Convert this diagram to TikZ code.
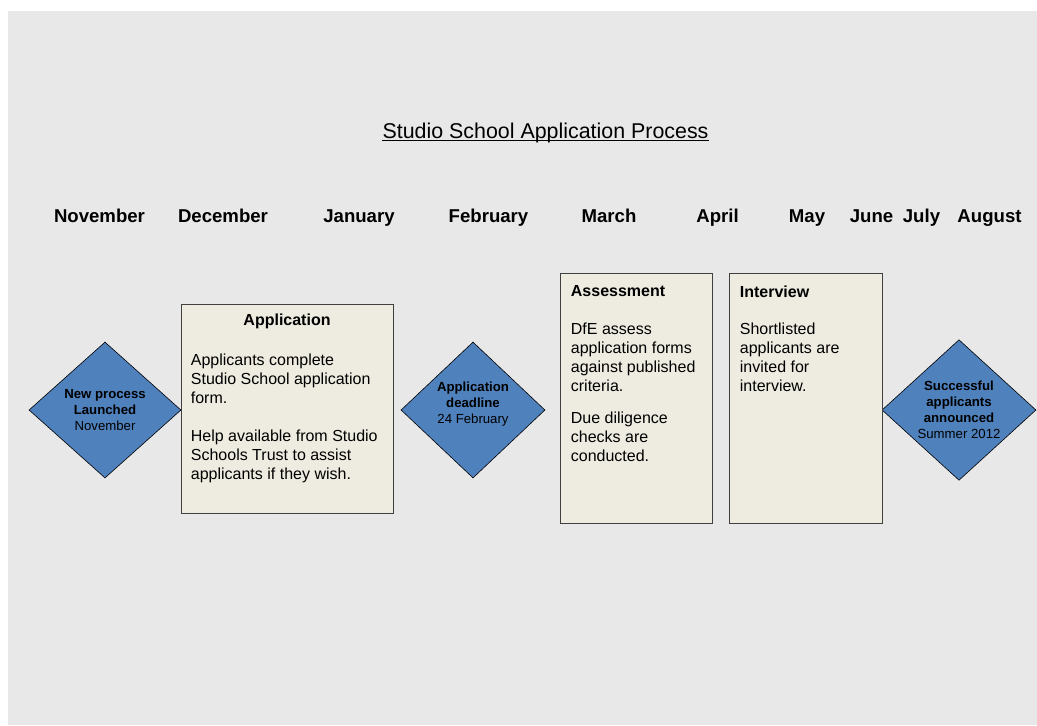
\documentclass[tikz,border=0pt]{standalone}
\usepackage{fontspec}
\setmainfont{Liberation Sans}
\usetikzlibrary{positioning,shapes.geometric}
\definecolor{pagegray}{HTML}{E8E8E8}
\definecolor{boxcream}{HTML}{EEECE1}
\definecolor{stepblue}{HTML}{4F81BD}

\begin{document}
\begin{tikzpicture}[x=0.5pt, y=-0.5pt,
  month/.style={font=\fontsize{9.3}{11}\selectfont\bfseries, inner sep=0pt, anchor=base},
  milestone/.style={diamond, draw=black, line width=0.3pt, fill=stepblue,
                    minimum height=68pt, inner sep=0pt, align=center,
                    font=\fontsize{6.6}{8}\selectfont},
  stage/.style={draw=black!75, line width=0.5pt, fill=boxcream, inner sep=0pt},
  stagehead/.style={font=\fontsize{8}{9.5}\selectfont\bfseries, inner sep=0pt},
  stagebody/.style={font=\fontsize{8}{9.5}\selectfont, align=left, inner sep=0pt}
]
\useasboundingbox (0,0) rectangle (1037,725);
\fill[pagegray] (8,11) rectangle (1037,725);

% title
\node[font=\fontsize{10.7}{13}\selectfont, inner sep=0pt, anchor=base] (title) at (545.5,138)
  {Studio School Application Process};
\draw[line width=0.55pt] ([yshift=-1.1pt]title.base west) -- ([yshift=-1.1pt]title.base east);

% months
\node[month] (nov) at (99.5,222) {November};
\node[month] (dec) at (223,222) {December};
\node[month] (jan) at (359,222) {January};
\node[month] (feb) at (488.5,222) {February};
\node[month] (mar) at (609,222) {March};
\node[month] (apr) at (717.5,222) {April};
\node[month] (may) at (807,222) {May};
\node[month] (jun) at (871.5,222) {June};
\node[month] (jul) at (921.5,222) {July};
\node[month] (aug) at (989.5,222) {August};

% milestones
\node[milestone, minimum width=76pt] (launch) at (105,410)
  {\textbf{New process}\\\textbf{Launched}\\November};
\node[milestone, minimum width=72pt] (deadline) at (473,410)
  {\textbf{Application}\\\textbf{deadline}\\24 February\\[-1pt]};
\node[milestone, minimum width=77pt] (result) at (959,410)
  {\textbf{Successful}\\\textbf{applicants}\\\textbf{announced}\\Summer 2012};

% stages
\node[stage, minimum width=106pt, minimum height=104.5pt] (app) at (287,408.5) {};
\node[stage, minimum width=76pt, minimum height=125pt] (assess) at (636,398) {};
\node[stage, minimum width=76.5pt, minimum height=125pt] (interview) at (805.5,398) {};

\node[stagehead, below=5pt of app.north] (apphead) {Application};
\node[stagebody, below right=25pt and 5pt of app.north west] (appbody)
  {Applicants complete\\Studio School application\\form.\\[9.5pt]
   Help available from Studio\\Schools Trust to assist\\applicants if they wish.};

\node[stagehead, below right=6.5pt and 5.5pt of assess.north west] (assesshead) {Assessment};
\node[stagebody, below right=25pt and 5.5pt of assess.north west] (assessbody)
  {DfE assess\\application forms\\against published\\criteria.\\[6.5pt]
   Due diligence\\checks are\\conducted.};

\node[stagehead, below right=6.5pt and 5.5pt of interview.north west] (interviewhead) {Interview};
\node[stagebody, below right=25pt and 5.5pt of interview.north west] (interviewbody)
  {Shortlisted\\applicants are\\invited for\\interview.};
\end{tikzpicture}
\end{document}
